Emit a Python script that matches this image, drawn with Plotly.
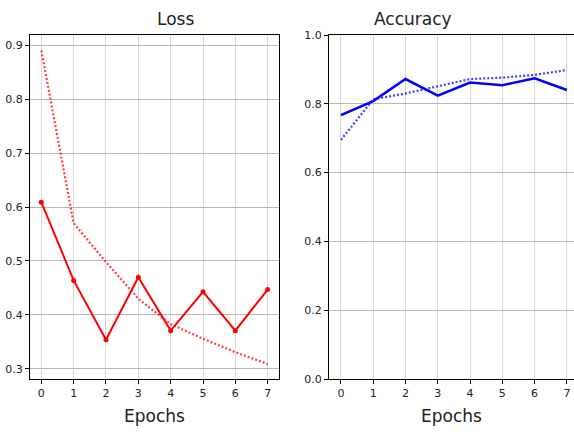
import plotly.graph_objects as go
from plotly.subplots import make_subplots

epochs = [0, 1, 2, 3, 4, 5, 6, 7]
train_loss = [0.89, 0.57, 0.498, 0.43, 0.383, 0.356, 0.331, 0.309]
val_loss = [0.609, 0.464, 0.354, 0.470, 0.371, 0.443, 0.371, 0.447]
train_acc = [0.695, 0.813, 0.830, 0.852, 0.872, 0.876, 0.884, 0.898]
val_acc = [0.767, 0.808, 0.872, 0.824, 0.862, 0.854, 0.874, 0.840]
loss_ticks = [0.3, 0.4, 0.5, 0.6, 0.7, 0.8, 0.9]
acc_ticks = [0.0, 0.2, 0.4, 0.6, 0.8, 1.0]

FONT = "DejaVu Sans"
TEXT = "#222"

fig = make_subplots(rows=1, cols=2)

fig.add_trace(go.Scatter(x=epochs, y=train_loss, mode="lines",
                         line=dict(color="rgba(255,0,0,0.75)", width=2.2, dash="2px,2px"),
                         showlegend=False), row=1, col=1)
fig.add_trace(go.Scatter(x=epochs, y=val_loss, mode="lines+markers",
                         line=dict(color="red", width=2),
                         marker=dict(color="red", size=5),
                         showlegend=False), row=1, col=1)
fig.add_trace(go.Scatter(x=epochs, y=train_acc, mode="lines",
                         line=dict(color="rgba(0,0,255,0.75)", width=2.2, dash="2px,2px"),
                         showlegend=False), row=1, col=2)
fig.add_trace(go.Scatter(x=epochs, y=val_acc, mode="lines",
                         line=dict(color="blue", width=2.5),
                         showlegend=False), row=1, col=2)

axis_common = dict(showline=True, linecolor="black", linewidth=1.2,
                   ticks="outside", ticklen=4, tickcolor="black",
                   tickfont=dict(family=FONT, size=11, color=TEXT),
                   zeroline=False)

fig.update_xaxes(**axis_common, tickvals=epochs, gridcolor="#d8d8d8",
                 gridwidth=1.2,
                 title=dict(text="Epochs", font=dict(family=FONT, size=17, color=TEXT),
                            standoff=10))
fig.update_xaxes(domain=[30 / 574, 279 / 574], range=[-0.35, 7.35], mirror=True,
                 row=1, col=1)
fig.update_xaxes(domain=[329 / 574, 1.0], range=[-0.37, 7.22], mirror=True,
                 row=1, col=2)

fig.update_yaxes(**axis_common, gridcolor="#b8b8b8", gridwidth=1.2)
fig.update_yaxes(range=[0.2814, 0.9186], tickvals=loss_ticks,
                 ticktext=[f"{v:.1f}" for v in loss_ticks], mirror=True,
                 row=1, col=1)
fig.update_yaxes(range=[0.0, 1.0], tickvals=acc_ticks,
                 ticktext=[f"{v:.1f}" for v in acc_ticks], mirror=True,
                 row=1, col=2)

fig.add_annotation(text="Loss", x=(30 + 279) / 2 / 574, y=1.0, xref="paper", yref="paper",
                   yanchor="bottom", yshift=4, showarrow=False,
                   font=dict(family=FONT, size=17, color=TEXT))
fig.add_annotation(text="Accuracy", x=(329 + 579) / 2 / 574, y=1.0, xref="paper",
                   yref="paper", yanchor="bottom", yshift=4, showarrow=False,
                   font=dict(family=FONT, size=17, color=TEXT))

fig.update_layout(width=574, height=432, margin=dict(l=0, r=0, t=35, b=53),
                  plot_bgcolor="white", paper_bgcolor="white")

fig.write_html("out.html")
